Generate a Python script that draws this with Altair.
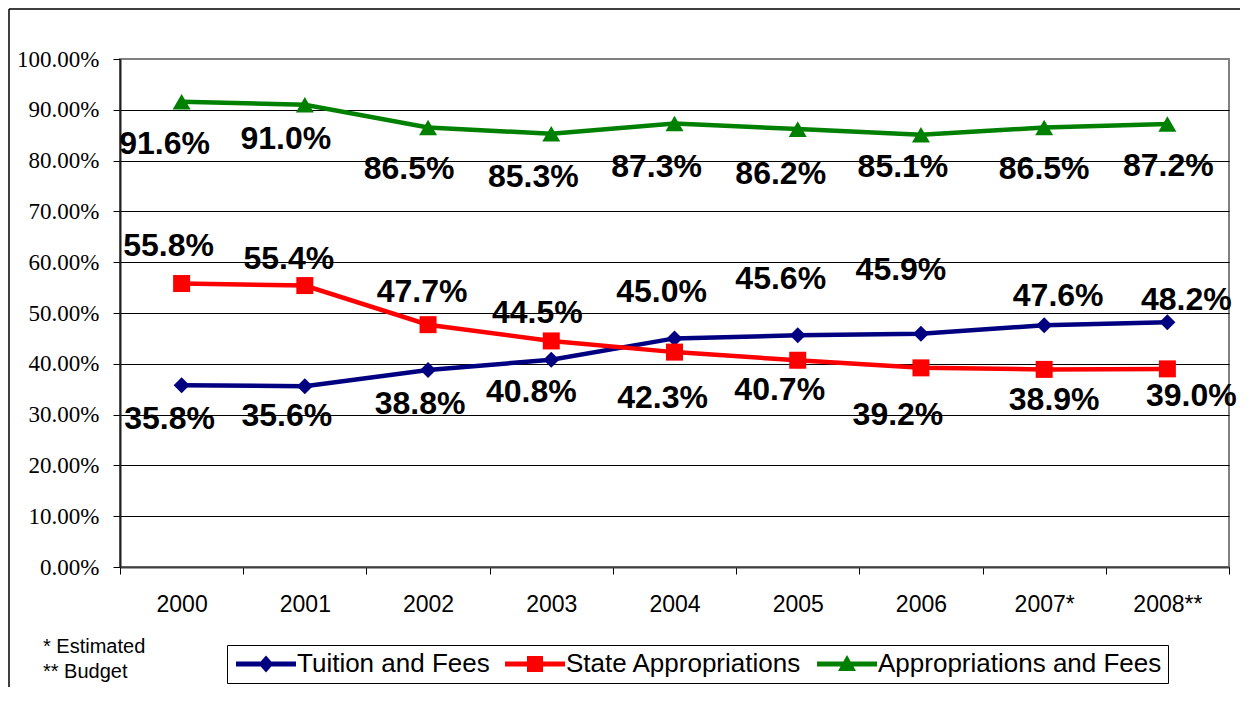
import altair as alt
import pandas as pd

# ---------------- data ----------------
years = ["2000", "2001", "2002", "2003", "2004", "2005", "2006", "2007*", "2008**"]
series_names = ["Tuition and Fees", "State Appropriations", "Appropriations and Fees"]
tuition = [35.8, 35.6, 38.8, 40.8, 45.0, 45.6, 45.9, 47.6, 48.2]
state = [55.8, 55.4, 47.7, 44.5, 42.3, 40.7, 39.2, 38.9, 39.0]
combined = [91.6, 91.0, 86.5, 85.3, 87.3, 86.2, 85.1, 86.5, 87.2]
y_tick_values = [0, 10, 20, 30, 40, 50, 60, 70, 80, 90, 100]
footnotes = ["* Estimated", "** Budget"]

# ---------------- styles ----------------
colors = ["#000080", "#FF0000", "#008000"]
marker_shapes = ["diamond", "square", "triangle-up"]
marker_sizes = [256, 289, 324]
legend_paths = [
    "M-1,-0.25 L5,-0.25 L5,0.25 L-1,0.25 Z M2,-0.85 L2.75,0 L2,0.85 L1.25,0 Z",
    "M-1,-0.25 L5,-0.25 L5,0.25 L-1,0.25 Z M1.2,-0.8 L2.8,-0.8 L2.8,0.8 L1.2,0.8 Z",
    "M-1,-0.25 L5,-0.25 L5,0.25 L-1,0.25 Z M2,-0.9 L2.9,0.7 L1.1,0.7 Z",
]
# pixel offsets of each data label from its point (series x year)
label_offsets = [
    [(-12, 34), (-18, 30), (-8, 34), (-20, 32), (-13, -46), (-17, -56), (-20, -64), (14, -29), (19, -22)],
    [(-13, -38), (-16, -27), (-6, -33), (-14, -28), (-12, 46), (-18, 30), (-23, 47), (10, 31), (24, 27)],
    [(-17, 42), (-19, 34), (-19, 41), (-18, 43), (-18, 43), (-17, 45), (-18, 32), (0, 41), (1, 42)],
]

rows = []
for name, vals in zip(series_names, [tuition, state, combined]):
    for yr, v in zip(years, vals):
        rows.append({"year": yr, "series": name, "pct": v / 100.0})
df = pd.DataFrame(rows)

W, H = 1109, 508
SERIF = "Liberation Serif, Times New Roman, DejaVu Serif, serif"
SANS = "Liberation Sans, Arial, sans-serif"

x_enc = alt.X(
    "year:N",
    sort=years,
    scale=alt.Scale(type="band", paddingInner=0, paddingOuter=0),
    axis=alt.Axis(
        title=None, labelAngle=0, tickBand="extent", grid=False,
        labelFont=SANS, labelFontSize=23, labelColor="black",
        labelPadding=19, tickSize=7, tickColor="black", tickWidth=1,
        domainColor="#404040", domainWidth=2,
    ),
)
y_enc = alt.Y(
    "pct:Q",
    scale=alt.Scale(domain=[0, 1], nice=False),
    axis=alt.Axis(
        title=None, values=[v / 100.0 for v in y_tick_values], format=".2%",
        labelFont=SERIF, labelFontSize=23, labelColor="black",
        labelPadding=14, tickSize=7, tickColor="black", tickWidth=1,
        domainColor="#202020", domainWidth=2,
        grid=True, gridWidth=1,
        gridColor={"condition": {"test": "datum.value >= 0.999", "value": "#808080"}, "value": "#000000"},
    ),
)
color_scale = alt.Scale(domain=series_names, range=colors)

layers = []

# legend-only layer (marks fully transparent)
leg = alt.Legend(
    orient="none", legendX=107, legendY=586, direction="horizontal", title=None,
    labelFont=SANS, labelFontSize=26, labelColor="black", labelLimit=0,
    symbolSize=400, symbolStrokeWidth=0, symbolOpacity=1, labelOffset=38,
    columnPadding=12, padding=6, strokeColor="black", fillColor="white",
)
layers.append(
    alt.Chart(df)
    .mark_point(filled=True, opacity=0, size=10)
    .encode(
        x=x_enc, y=y_enc,
        color=alt.Color("series:N", scale=color_scale, legend=leg),
        shape=alt.Shape("series:N", scale=alt.Scale(domain=series_names, range=legend_paths), legend=leg),
    )
)

# lines and markers
for name, col in zip(series_names, colors):
    base = alt.Chart(df).transform_filter(alt.datum.series == name)
    layers.append(base.mark_line(strokeWidth=4.5, color=col).encode(x=x_enc, y=y_enc))
for name, col, shp, sz in zip(series_names, colors, marker_shapes, marker_sizes):
    base = alt.Chart(df).transform_filter(alt.datum.series == name)
    layers.append(
        base.mark_point(shape=shp, filled=True, size=sz, color=col, opacity=1, strokeWidth=0)
        .encode(x=x_enc, y=y_enc)
    )

# data labels
for si, name in enumerate(series_names):
    for yi, yr in enumerate(years):
        dx, dy = label_offsets[si][yi]
        layers.append(
            alt.Chart(df)
            .transform_filter((alt.datum.series == name) & (alt.datum.year == yr))
            .mark_text(font=SANS, fontSize=32, fontWeight="bold",
                       color="black", align="center", baseline="middle", dx=dx, dy=dy)
            .encode(x=x_enc, y=y_enc, text=alt.Text("pct:Q", format=".1%"))
        )

# footnote
one = alt.Data(values=[{"k": 0}])
layers.append(
    alt.Chart(one).mark_text(
        text=footnotes, align="left", baseline="alphabetic", lineHeight=25,
        font=SANS, fontSize=20, color="black",
    ).encode(x=alt.value(-77), y=alt.value(594))
)

# outer frame (top and left edges)
layers.append(
    alt.Chart(one).mark_rule(color="black", strokeWidth=1.5)
    .encode(x=alt.value(-111), x2=alt.value(1120), y=alt.value(-50))
)
layers.append(
    alt.Chart(one).mark_rule(color="black", strokeWidth=1.5)
    .encode(x=alt.value(-111), y=alt.value(-50), y2=alt.value(628))
)

chart = (
    alt.layer(*layers)
    .properties(width=W, height=H, padding=0, background="white")
    .configure_view(stroke="#808080", strokeWidth=2)
)

chart.save("out.html", embed_options={"renderer": "svg", "actions": False})
